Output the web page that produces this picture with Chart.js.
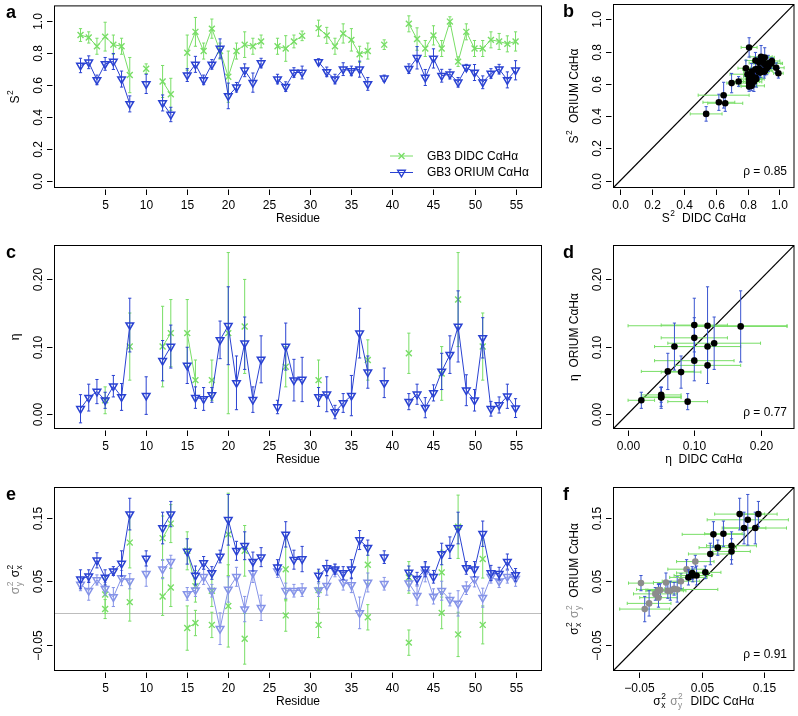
<!DOCTYPE html>
<html><head><meta charset="utf-8">
<script src="https://cdn.jsdelivr.net/npm/chart.js@4.4.1/dist/chart.umd.min.js"></script>
<style>
html,body{margin:0;padding:0;background:#fff;}
#wrap{position:relative;width:798px;height:716px;overflow:hidden;background:#fff;}
canvas{position:absolute;left:0;top:0;}
</style></head><body><div id="wrap">
<canvas id="pa" width="798" height="716"></canvas>
<canvas id="pb" width="798" height="716"></canvas>
<canvas id="pc" width="798" height="716"></canvas>
<canvas id="pd" width="798" height="716"></canvas>
<canvas id="pe" width="798" height="716"></canvas>
<canvas id="pf" width="798" height="716"></canvas>
</div>
<script>
// ---------------- DATA ----------------
const residues = [2,3,4,5,6,7,8,10,12,13,15,16,17,18,19,20,21,22,23,24,26,27,28,29,31,32,33,34,35,36,37,39,42,43,44,45,46,47,48,49,50,51,52,53,54,55];
const s2Didc    = [0.91,0.895,0.84,0.90,0.85,0.84,0.66,0.70,0.62,0.54,0.80,0.93,0.81,0.95,0.81,0.65,0.81,0.85,0.84,0.87,0.84,0.826,0.87,0.905,0.953,0.908,0.84,0.92,0.88,0.79,0.81,0.85,0.98,0.885,0.826,0.908,0.826,0.994,0.744,0.93,0.826,0.826,0.88,0.87,0.855,0.87];
const s2DidcErr = [0.04,0.035,0.05,0.09,0.06,0.05,0.11,0.03,0.10,0.10,0.11,0.09,0.05,0.06,0.05,0.16,0.05,0.08,0.05,0.04,0.05,0.08,0.04,0.03,0.05,0.05,0.05,0.06,0.07,0.05,0.05,0.03,0.05,0.07,0.05,0.06,0.05,0.03,0.03,0.05,0.05,0.05,0.05,0.05,0.05,0.06];
const s2Orium    = [0.72,0.74,0.63,0.73,0.745,0.635,0.48,0.605,0.486,0.414,0.66,0.727,0.63,0.727,0.826,0.53,0.584,0.69,0.613,0.735,0.635,0.588,0.676,0.676,0.742,0.68,0.635,0.697,0.686,0.697,0.605,0.64,0.70,0.768,0.645,0.764,0.656,0.666,0.615,0.707,0.676,0.615,0.67,0.697,0.63,0.69];
const s2OriumErr = [0.045,0.04,0.03,0.04,0.05,0.05,0.05,0.06,0.05,0.045,0.04,0.05,0.03,0.03,0.06,0.08,0.03,0.04,0.06,0.03,0.03,0.03,0.03,0.04,0.02,0.03,0.03,0.04,0.03,0.05,0.04,0.02,0.03,0.07,0.05,0.06,0.04,0.03,0.03,0.02,0.05,0.04,0.03,0.03,0.05,0.06];
const etaOrium    = [0.0074,0.024,0.033,0.02,0.041,0.025,0.132,0.027,0.079,0.10,0.072,0.024,0.022,0.028,0.11,0.131,0.046,0.105,0.021,0.081,0.01,0.10,0.05,0.051,0.025,0.029,0.0025,0.016,0.027,0.12,0.062,0.046,0.018,0.029,0.009,0.031,0.063,0.088,0.13,0.035,0.02,0.113,0.0074,0.013,0.026,0.0084];
const etaOriumErr = [0.021,0.02,0.018,0.012,0.016,0.02,0.04,0.028,0.03,0.032,0.027,0.016,0.017,0.011,0.028,0.058,0.04,0.039,0.019,0.035,0.01,0.035,0.031,0.033,0.014,0.026,0.01,0.014,0.03,0.037,0.024,0.022,0.012,0.015,0.015,0.012,0.027,0.028,0.053,0.023,0.016,0.03,0.011,0.012,0.018,0.014];
const sx2Orium    = [0.053,0.058,0.083,0.056,0.066,0.078,0.156,0.086,0.134,0.156,0.097,0.059,0.079,0.063,0.089,0.147,0.098,0.106,0.081,0.088,0.072,0.124,0.084,0.085,0.059,0.071,0.069,0.063,0.069,0.115,0.103,0.088,0.064,0.054,0.069,0.057,0.093,0.103,0.134,0.071,0.069,0.125,0.063,0.062,0.081,0.06];
const sx2OriumErr = [0.015,0.01,0.012,0.012,0.007,0.02,0.025,0.012,0.025,0.02,0.02,0.015,0.01,0.01,0.01,0.04,0.015,0.022,0.015,0.015,0.012,0.02,0.015,0.02,0.01,0.012,0.008,0.01,0.015,0.015,0.012,0.01,0.01,0.01,0.012,0.01,0.017,0.017,0.025,0.01,0.012,0.02,0.012,0.01,0.012,0.01];
const sy2Orium    = [0.045,0.035,0.052,0.038,0.025,0.055,0.05,0.062,0.069,0.081,0.03,0.036,0.057,0.035,-0.025,0.037,0.057,0.006,0.063,0.008,0.066,0.035,0.035,0.036,0.036,0.043,0.067,0.048,0.044,0.0,0.048,0.046,0.047,0.027,0.064,0.026,0.035,0.021,0.015,0.039,0.053,0.024,0.057,0.05,0.057,0.054];
const sy2OriumErr = [0.01,0.015,0.008,0.01,0.015,0.012,0.012,0.02,0.015,0.01,0.01,0.01,0.012,0.01,0.025,0.02,0.015,0.02,0.015,0.02,0.01,0.012,0.01,0.01,0.01,0.015,0.01,0.012,0.012,0.025,0.015,0.01,0.012,0.015,0.015,0.012,0.015,0.01,0.02,0.01,0.012,0.015,0.01,0.01,0.01,0.012];
// DIDC dynamics parameters exist only for these residues
const didcResidues = [5,8,12,13,15,16,18,20,22,27,31,37,42,46,48,51];
const etaDidc     = [0.02,0.10,0.10,0.12,0.12,0.05,0.05,0.12,0.13,0.07,0.05,0.08,0.09,0.06,0.17,0.10];
const etaDidcErr  = [0.02,0.05,0.06,0.05,0.05,0.03,0.03,0.12,0.07,0.03,0.03,0.03,0.03,0.04,0.07,0.05];
const sx2Didc     = [0.029,0.111,0.118,0.141,0.098,0.042,0.035,0.124,0.098,0.069,0.036,0.076,0.056,0.064,0.136,0.085];
const sx2DidcErr  = [0.03,0.04,0.035,0.03,0.03,0.025,0.025,0.065,0.04,0.05,0.03,0.03,0.025,0.035,0.05,0.03];
const sy2Didc     = [0.006,0.017,0.026,0.04,-0.024,-0.016,-0.019,0.011,-0.041,-0.004,-0.019,-0.007,-0.047,0.0,-0.034,-0.019];
const sy2DidcErr  = [0.015,0.03,0.03,0.03,0.035,0.02,0.02,0.065,0.04,0.025,0.02,0.02,0.02,0.025,0.035,0.03];
// tick labels
const residueTicks = [5,10,15,20,25,30,35,40,45,50,55];
const s2Ticks    = [0,0.2,0.4,0.6,0.8,1.0];
const etaTicks   = [0,0.1,0.2];
const sigmaTicks = [-0.05,0.05,0.15];
const rhoLabels  = {b:'ρ = 0.85', d:'ρ = 0.77', f:'ρ = 0.91'};

// ---------------- STYLE ----------------
const FONT = '"Liberation Sans", Arial, Helvetica, sans-serif';
const GREEN = '#78de66', BLUE = '#2a42d2', LBLUE = '#8593e8', GRAY = '#8c8c8c';
const W = 798, H = 716;
const boxes = {a:[54.5,4.5,541.5,187.5], b:[613.5,4.5,797.5,187.5], c:[54.5,245.5,541.5,428.5], d:[613.5,245.5,797.5,428.5], e:[54.5,487.5,541.5,670.5], f:[613.5,487.5,797.5,670.5]};

// ---------------- HELPERS ----------------
function lineSeries(res, vals, errs) {
  const out = [];
  for (let r = res[0]; r <= res[res.length-1]; r++) {
    const i = res.indexOf(r);
    out.push(i < 0 ? {x:r, y:null} : {x:r, y:vals[i], ey:errs[i]});
  }
  return out;
}
function pairs(xs, xe, ys, ye) { return xs.map((v,i)=>({x:v, y:ys[i], ex:xe[i], ey:ye[i]})); }
function atDidc(arr) { return didcResidues.map(r => arr[residues.indexOf(r)]); }

function greenDs(data, order) {
  return {data, order, showLine:true, spanGaps:false, borderColor:GREEN, borderWidth:1,
    pointStyle:'crossRot', pointRadius:4.2, pointBorderColor:GREEN, pointBorderWidth:1.4,
    pointBackgroundColor:'rgba(0,0,0,0)', errColor:GREEN};
}
function triDs(data, color, order) {
  return {data, order, showLine:true, spanGaps:false, borderColor:color, borderWidth:1,
    pointStyle:'triangle', rotation:180, pointRadius:4.4, pointBorderColor:color, pointBorderWidth:1.5,
    pointBackgroundColor:'rgba(255,255,255,0)', errColor:color};
}
function dotDs(data, color, order) {
  return {data, order, showLine:false, pointStyle:'circle', pointRadius:3.3, pointBorderWidth:0,
    pointBackgroundColor:color, pointBorderColor:color, errXColor:GREEN, errYColor:'#3a55d0'};
}

function measureRuns(ctx, runs, fs) {
  let w = 0;
  runs.forEach(r => {
    if (r.t !== undefined) { ctx.font = `${fs}px ${FONT}`; r._w = ctx.measureText(r.t).width; }
    else if (r.sup !== undefined) { ctx.font = `${fs*0.7}px ${FONT}`; r._w = ctx.measureText(r.sup).width + 1; }
    else if (r.sig !== undefined) {
      ctx.font = `${fs}px ${FONT}`; const s = ctx.measureText('σ').width;
      ctx.font = `${fs*0.7}px ${FONT}`; const t = Math.max(ctx.measureText('2').width, ctx.measureText(r.sig).width);
      r._s = s; r._w = s + t + 1.5;
    }
    w += r._w;
  });
  return w;
}
function drawRuns(ctx, runs, cx, cy, rot, fs) {
  ctx.save();
  const total = measureRuns(ctx, runs, fs);
  ctx.translate(cx, cy); ctx.rotate(rot);
  ctx.textAlign = 'left'; ctx.textBaseline = 'middle';
  let x = -total/2;
  runs.forEach(r => {
    ctx.fillStyle = r.c || '#000';
    if (r.t !== undefined) { ctx.font = `${fs}px ${FONT}`; ctx.fillText(r.t, x, 0); }
    else if (r.sup !== undefined) { ctx.font = `${fs*0.7}px ${FONT}`; ctx.fillText(r.sup, x+0.5, -fs*0.38); }
    else if (r.sig !== undefined) {
      ctx.font = `${fs}px ${FONT}`; ctx.fillText('σ', x, 0);
      ctx.font = `${fs*0.7}px ${FONT}`;
      ctx.fillText('2', x + r._s + 0.5, -fs*0.4);
      ctx.fillText(r.sig, x + r._s + 0.5, fs*0.36);
    }
    x += r._w;
  });
  ctx.restore();
}
function seg(ctx, x1, y1, x2, y2) { ctx.moveTo(x1, y1); ctx.lineTo(x2, y2); }

const CAP = 1.6;
const panelPlugin = {
  id: 'panel',
  beforeDatasetsDraw(chart, args, o) {
    const {ctx, chartArea:a, scales:{x, y}} = chart;
    ctx.save();
    if (o.zeroLine) {
      ctx.strokeStyle = '#bdbdbd'; ctx.lineWidth = 1; ctx.beginPath();
      const py = Math.round(y.getPixelForValue(0)) + 0.5;
      seg(ctx, a.left, py, a.right, py); ctx.stroke();
    }
    if (o.diag) {
      ctx.beginPath(); ctx.rect(a.left, a.top, a.right-a.left, a.bottom-a.top); ctx.clip();
      const lo = Math.min(x.min, y.min), hi = Math.max(x.max, y.max);
      ctx.strokeStyle = '#000'; ctx.lineWidth = 1.1; ctx.beginPath();
      seg(ctx, x.getPixelForValue(lo), y.getPixelForValue(lo), x.getPixelForValue(hi), y.getPixelForValue(hi));
      ctx.stroke();
    }
    ctx.restore();
  },
  beforeDatasetDraw(chart, args) {
    const ds = chart.data.datasets[args.index];
    const {ctx, scales:{x, y}} = chart;
    ctx.save(); ctx.lineWidth = 1;
    const xc = ds.errXColor, yc = ds.errYColor || ds.errColor;
    if (xc) {
      ctx.strokeStyle = xc; ctx.beginPath();
      ds.data.forEach(p => {
        if (p.y == null || p.ex == null) return;
        const x1 = x.getPixelForValue(p.x - p.ex), x2 = x.getPixelForValue(p.x + p.ex), py = y.getPixelForValue(p.y);
        seg(ctx, x1, py, x2, py); seg(ctx, x1, py-CAP, x1, py+CAP); seg(ctx, x2, py-CAP, x2, py+CAP);
      });
      ctx.stroke();
    }
    if (yc) {
      ctx.strokeStyle = yc; ctx.beginPath();
      ds.data.forEach(p => {
        if (p.y == null || p.ey == null) return;
        const y1 = y.getPixelForValue(p.y - p.ey), y2 = y.getPixelForValue(p.y + p.ey), px = x.getPixelForValue(p.x);
        seg(ctx, px, y1, px, y2); seg(ctx, px-CAP, y1, px+CAP, y1); seg(ctx, px-CAP, y2, px+CAP, y2);
      });
      ctx.stroke();
    }
    ctx.restore();
  },
  afterDraw(chart, args, o) {
    const {ctx, chartArea:a, scales:{x, y}} = chart;
    ctx.save();
    ctx.strokeStyle = '#000'; ctx.lineWidth = 1;
    ctx.strokeRect(a.left, a.top, a.right-a.left, a.bottom-a.top);
    ctx.font = `12px ${FONT}`; ctx.fillStyle = '#000'; ctx.textAlign = 'center'; ctx.textBaseline = 'middle';
    ctx.beginPath();
    o.xTicks.forEach(v => {
      const px = Math.round(x.getPixelForValue(v)) + 0.5;
      seg(ctx, px, a.bottom+2, px, a.bottom+7.5);
      ctx.fillText(o.fmtX(v), px, a.bottom+18);
    });
    o.yTicks.forEach(v => {
      const py = Math.round(y.getPixelForValue(v)) + 0.5;
      seg(ctx, a.left-7.5, py, a.left-2, py);
      ctx.save(); ctx.translate(a.left-16, py); ctx.rotate(-Math.PI/2); ctx.fillText(o.fmtY(v), 0, 0); ctx.restore();
    });
    ctx.stroke();
    drawRuns(ctx, o.xTitle, (a.left+a.right)/2, a.bottom+31, 0, 12);
    drawRuns(ctx, o.yTitle, a.left-39, (a.top+a.bottom)/2, -Math.PI/2, 12);
    ctx.fillStyle = '#000'; ctx.font = `bold 18px ${FONT}`; ctx.textAlign = 'left'; ctx.textBaseline = 'alphabetic';
    ctx.fillText(o.letter, o.letterX, a.top + 12.5);
    if (o.rho) {
      ctx.font = `12px ${FONT}`; ctx.textAlign = 'right'; ctx.textBaseline = 'middle';
      ctx.fillText(o.rho, a.right - 7, a.bottom - 15.5);
    }
    if (o.legend) {
      o.legend.forEach((it, k) => {
        const yy = a.bottom - 31.5 + k*16.5, x1 = a.right - 151.5, x2 = a.right - 128.5;
        ctx.strokeStyle = it.color; ctx.lineWidth = 1; ctx.beginPath(); seg(ctx, x1, yy, x2, yy); ctx.stroke();
        ctx.fillStyle = 'rgba(0,0,0,0)'; ctx.lineWidth = 1.4;
        Chart.helpers.drawPoint(ctx, {pointStyle: it.style, rotation: it.rot, radius: it.r, borderWidth: 1.4}, (x1+x2)/2, yy);
        ctx.fillStyle = '#000'; ctx.font = `12px ${FONT}`; ctx.textAlign = 'left'; ctx.textBaseline = 'middle';
        ctx.fillText(it.text, a.right - 114.5, yy + 0.5);
      });
    }
    ctx.restore();
  }
};

const fmt = d => v => v.toFixed(d).replace('-', '−');
function makeChart(id, box, datasets, xr, yr, panel) {
  const [L, T, R, B] = box;
  return new Chart(document.getElementById(id), {
    type: 'scatter',
    data: {datasets},
    options: {
      responsive: false, animation: false, devicePixelRatio: 1, events: [],
      layout: {padding: {left: L, top: T, right: W - R, bottom: H - B}},
      scales: {
        x: {type: 'linear', display: false, min: xr[0], max: xr[1]},
        y: {type: 'linear', display: false, min: yr[0], max: yr[1]}
      },
      plugins: {legend: {display: false}, tooltip: {enabled: false}, panel}
    },
    plugins: [panelPlugin]
  });
}

const RES_RANGE = [-1.17, 58.16];
const S2_RANGE = [-0.042, 1.092];
const ETA_RANGE = [-0.022, 0.2505];
const SIG_RANGE = [-0.091, 0.198];
const Sq = [{t:'S'},{sup:'2'}];
const ca = [{t:'C'},{t:'α'},{t:'H'},{t:'α'}];

// a
makeChart('pa', boxes.a, [
  triDs(lineSeries(residues, s2Orium, s2OriumErr), BLUE, 1),
  greenDs(lineSeries(residues, s2Didc, s2DidcErr), 2)
], RES_RANGE, S2_RANGE, {
  letter:'a', letterX:6, xTicks:residueTicks, yTicks:s2Ticks, fmtX:fmt(0), fmtY:fmt(1),
  xTitle:[{t:'Residue'}], yTitle:Sq,
  legend:[{color:GREEN, style:'crossRot', rot:0, r:4.2, text:'GB3 DIDC CαHα'},
          {color:BLUE, style:'triangle', rot:180, r:4.4, text:'GB3 ORIUM CαHα'}]
});
// b
makeChart('pb', boxes.b, [
  dotDs(pairs(s2Didc, s2DidcErr, s2Orium, s2OriumErr), '#000', 1)
], S2_RANGE, S2_RANGE, {
  letter:'b', letterX:563, xTicks:s2Ticks, yTicks:s2Ticks, fmtX:fmt(1), fmtY:fmt(1), diag:true, rho:rhoLabels.b,
  xTitle:[...Sq, {t:'  DIDC '}, ...ca], yTitle:[...Sq, {t:'  ORIUM '}, ...ca]
});
// c
makeChart('pc', boxes.c, [
  triDs(lineSeries(residues, etaOrium, etaOriumErr), BLUE, 1),
  greenDs(lineSeries(didcResidues, etaDidc, etaDidcErr), 2)
], RES_RANGE, ETA_RANGE, {
  letter:'c', letterX:6, xTicks:residueTicks, yTicks:etaTicks, fmtX:fmt(0), fmtY:fmt(2),
  xTitle:[{t:'Residue'}], yTitle:[{t:'η'}]
});
// d
makeChart('pd', boxes.d, [
  dotDs(pairs(etaDidc, etaDidcErr, atDidc(etaOrium), atDidc(etaOriumErr)), '#000', 1)
], ETA_RANGE, ETA_RANGE, {
  letter:'d', letterX:563, xTicks:etaTicks, yTicks:etaTicks, fmtX:fmt(2), fmtY:fmt(2), diag:true, rho:rhoLabels.d,
  xTitle:[{t:'η  DIDC '}, ...ca], yTitle:[{t:'η  ORIUM '}, ...ca]
});
// e
makeChart('pe', boxes.e, [
  triDs(lineSeries(residues, sx2Orium, sx2OriumErr), BLUE, 1),
  triDs(lineSeries(residues, sy2Orium, sy2OriumErr), LBLUE, 2),
  greenDs(lineSeries(didcResidues, sx2Didc, sx2DidcErr), 3),
  greenDs(lineSeries(didcResidues, sy2Didc, sy2DidcErr), 4)
], RES_RANGE, SIG_RANGE, {
  letter:'e', letterX:6, xTicks:residueTicks, yTicks:sigmaTicks, fmtX:fmt(0), fmtY:fmt(2), zeroLine:true,
  xTitle:[{t:'Residue'}], yTitle:[{sig:'y', c:GRAY}, {t:' '}, {sig:'x'}]
});
// f
makeChart('pf', boxes.f, [
  dotDs(pairs(sx2Didc, sx2DidcErr, atDidc(sx2Orium), atDidc(sx2OriumErr)), '#000', 1),
  dotDs(pairs(sy2Didc, sy2DidcErr, atDidc(sy2Orium), atDidc(sy2OriumErr)), GRAY, 2)
], SIG_RANGE, SIG_RANGE, {
  letter:'f', letterX:563, xTicks:sigmaTicks, yTicks:sigmaTicks, fmtX:fmt(2), fmtY:fmt(2), diag:true, rho:rhoLabels.f,
  xTitle:[{sig:'x'}, {t:' '}, {sig:'y', c:GRAY}, {t:'  DIDC '}, ...ca],
  yTitle:[{sig:'x'}, {t:' '}, {sig:'y', c:GRAY}, {t:'  ORIUM '}, ...ca]
});
</script>
</body></html>
